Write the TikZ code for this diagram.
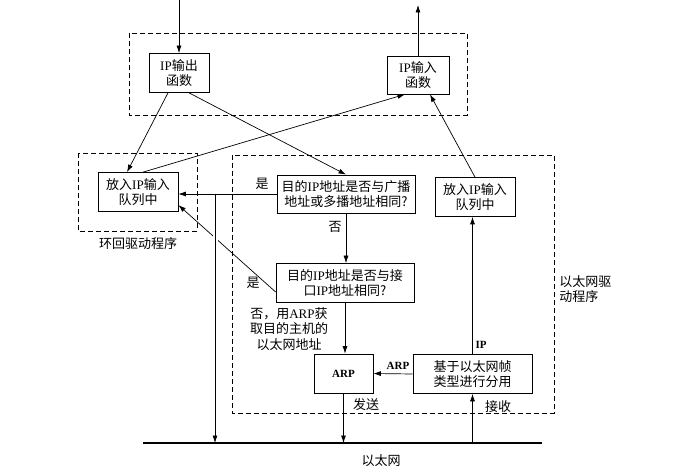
\documentclass[tikz,border=0pt]{standalone}
\usepackage{fontspec}
\setmainfont{Liberation Serif}
\newfontfamily\cjk{Noto Sans CJK SC}
\usetikzlibrary{arrows.meta}
\newcommand\lat[1]{{\rmfamily #1}}

\begin{document}
\begin{tikzpicture}[x=1pt, y=-1pt, >={Latex[length=7.5pt,width=5pt]}, line width=0.7pt,
  font=\cjk\fontsize{13}{15.5}\selectfont]
% Stili per blocchi, riquadri tratteggiati ed etichette
\tikzset{blocco/.style={draw, minimum width=#1, minimum height=39pt, inner sep=1pt, align=center},
         driver/.style={dash pattern=on 5pt off 3pt, line width=0.6pt},
         etich/.style={inner sep=1pt, align=center},
         grassetto/.style={inner sep=1pt, font=\rmfamily\bfseries\fontsize{11}{13}\selectfont}}

\useasboundingbox (0,0) rectangle (694,473);

% --- RIQUADRI TRATTEGGIATI ---
\draw[driver] (129,33) rectangle (467,115);
\draw[driver] (78,153) rectangle (197,231);
\draw[driver] (232,155) rectangle (554,413);
\node[etich] at (138,244) {环回驱动程序};
\node[etich, anchor=west, align=left] at (558,289) {以太网驱\\动程序};

% --- BLOCCHI ---
\node[blocco=60pt] (out) at (179,73) {\lat{IP}输出\\函数};
\node[blocco=62pt, minimum height=38pt] (in) at (418,75) {\lat{IP}输入\\函数};
\node[blocco=80pt] (lq) at (138,192) {放入\lat{IP}输入\\队列中};
\node[blocco=138pt, minimum height=38pt] (d1) at (346,194) {目的\lat{IP}地址是否与广播\\地址或多播地址相同?};
\node[blocco=80pt] (rq) at (475,197) {放入\lat{IP}输入\\队列中};
\node[blocco=138pt] (d2) at (345,283) {目的\lat{IP}地址是否与接\\口\lat{IP}地址相同?};
\node[blocco=59pt] (arp) at (343.5,373.5) {\rmfamily\bfseries\fontsize{11}{13}\selectfont ARP};
\node[blocco=119pt] (demux) at (472.5,374) {基于以太网帧\\类型进行分用};

% --- RETE ETHERNET ---
\coordinate (ethL) at (143,443);
\coordinate (ethR) at (542,443);
\draw[line width=2.4pt] (ethL) -- (ethR);
\node[etich] at (381,461) {以太网};

% --- COLLEGAMENTI ---
\coordinate (src) at (179,0);
\coordinate (dst) at (418,5);
\draw[->] (src) -- (out.north);
\draw[->] (in.north) -- (dst);
\draw[->] ([xshift=-11pt]out.south) -- ([xshift=-11pt]lq.north);
\draw[->] ([xshift=10pt]out.south) -- (d1.north);
\draw[->] ([xshift=5pt]lq.north) -- ([xshift=-13pt]in.south);
\draw[->] (rq.north) -- ([xshift=12pt]in.south);

% broadcast: verso il loopback e verso la rete
\draw[->] (d1.west) -- (d1.west -| lq.east);
\node[etich] at (262,184) {是};
\coordinate (br) at (215,194);
\draw[->] ([yshift=-9pt]d2.west) -- ([yshift=-13pt]lq.east);
\node[etich] at (253,283) {是};
\draw[white, line width=5pt] (215,226) -- (215,242);
\draw[->] (br) -- (br |- ethL);

\draw[->] (d1.south) -- (d1.south |- d2.north);
\node[etich] at (335,227) {否};
\draw[->] (d2.south) -- (d2.south |- arp.north);
\node[etich] at (289,329) {否，用\lat{ARP}获\\取目的主机的\\以太网地址};

% invio e ricezione
\draw[->] (arp.south) -- (arp.south |- ethL);
\node[etich] at (366,405) {发送};
\draw[->] (demux.south |- ethL) -- (demux.south);
\node[etich] at (498,407) {接收};
\draw[->] (demux.west) -- (arp.east);
\node[grassetto] at (398,366) {ARP};
\draw[->] (demux.north) -- (demux.north |- rq.south);
\node[grassetto] at (481,345) {IP};

\end{tikzpicture}
\end{document}
